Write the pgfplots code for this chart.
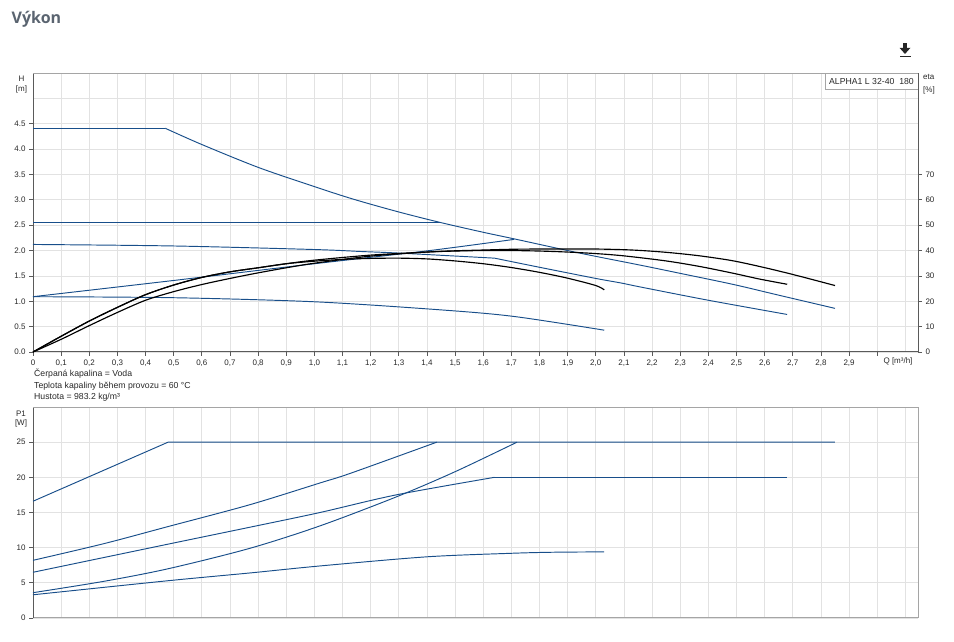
\documentclass[border=0pt]{standalone}
\usepackage{fontspec}
\setmainfont{Liberation Sans}
\newfontfamily\titlefont{Open Sans}
\usepackage{pgfplots}
\pgfplotsset{compat=1.18}
\definecolor{cblue}{RGB}{24,78,138}
\definecolor{gridc}{RGB}{226,226,226}
\definecolor{axc}{RGB}{90,90,90}
\definecolor{bordc}{RGB}{165,165,165}
\definecolor{txt}{RGB}{40,40,40}
\definecolor{ttl}{RGB}{90,100,112}
\pgfplotsset{
  common/.style={
    scale only axis, width=885pt, xmin=0, xmax=3.145,
    tick align=outside, major tick length=4pt, minor tick length=0pt,
    tick style={draw=axc, line width=0.7pt},
    ticklabel style={font=\fontsize{8}{9}\selectfont, text=txt},
    /pgf/number format/assume math mode=true,
    grid=both, major grid style={draw=gridc, line width=0.8pt},
    minor grid style={draw=gridc, line width=0.8pt},
    axis line style={-, draw=axc, line width=1pt},
    clip=false,
  },
  bl/.style={draw=cblue, line width=0.95pt, mark=none},
  bls/.style={draw=cblue, line width=0.95pt, mark=none, smooth, tension=0.5},
  bk/.style={draw=black, line width=1.15pt, mark=none, smooth, tension=0.5},
}
\begin{document}
\begin{tikzpicture}
\useasboundingbox (0pt,0pt) rectangle (954pt,642pt);
\node[anchor=base west, font=\titlefont\bfseries\fontsize{16}{18}\selectfont, text=ttl, inner sep=0pt] at (11.5pt,618pt) {Výkon};
% download icon
\fill[black!85] (903.4pt,599pt) rectangle (906.6pt,594pt);
\fill[black!85] (899.5pt,594.2pt) -- (910.5pt,594.2pt) -- (905pt,588pt) -- cycle;
\fill[black!85] (899.5pt,586.4pt) rectangle (910.5pt,584.8pt);

% ---------- upper axis: H ----------
\begin{axis}[common, at={(33pt,290pt)}, anchor=south west, height=279pt,
  ymin=0, ymax=5.5, axis x line*=bottom, axis y line*=left,
  xtick={0,0.1,0.2,0.3,0.4,0.5,0.6,0.7,0.8,0.9,1.0,1.1,1.2,1.3,1.4,1.5,1.6,1.7,1.8,1.9,2.0,2.1,2.2,2.3,2.4,2.5,2.6,2.7,2.8,2.9,3.0},
  xticklabels={0,{0,1},{0,2},{0,3},{0,4},{0,5},{0,6},{0,7},{0,8},{0,9},{1,0},{1,1},{1,2},{1,3},{1,4},{1,5},{1,6},{1,7},{1,8},{1,9},{2,0},{2,1},{2,2},{2,3},{2,4},{2,5},{2,6},{2,7},{2,8},{2,9},{}},
  minor xtick={3.1},
  ytick={0,0.5,1.0,1.5,2.0,2.5,3.0,3.5,4.0,4.5},
  minor ytick={5.0},
  yticklabel style={/pgf/number format/fixed, /pgf/number format/fixed zerofill, /pgf/number format/precision=1},
]
\addplot[bl] coordinates {(0,4.41)(0.47,4.41)};
\addplot[bls] coordinates {(0.47,4.41)(0.6,4.09)(0.8,3.64)(1.0,3.26)(1.14,3.01)(1.3,2.76)(1.45,2.55)(1.6,2.36)(1.71,2.23)(1.9,2.0)(2.0,1.885)(2.16,1.71)(2.3,1.55)(2.49,1.33)(2.65,1.12)(2.85,0.86)};
\addplot[bl] coordinates {(0,2.555)(1.45,2.555)};
\addplot[bls] coordinates {(0,2.12)(0.5,2.09)(1.0,2.02)(1.17,1.98)(1.3,1.95)(1.64,1.85)};
\addplot[bls] coordinates {(1.64,1.85)(1.8,1.67)(2.0,1.45)(2.09,1.36)(2.16,1.28)(2.4,1.02)(2.68,0.74)};
\addplot[bls] coordinates {(0,1.09)(0.5,1.41)(1.0,1.74)(1.41,2.0)(1.71,2.22)};
\addplot[bls] coordinates {(0,1.09)(0.5,1.07)(1.0,0.99)(1.45,0.83)(1.71,0.70)(2.03,0.43)};
\draw[bordc, line width=0.8pt] (rel axis cs:0,1) -- (rel axis cs:1,1);
\node[draw=bordc, fill=white, anchor=north east, font=\fontsize{8.7}{9}\selectfont, text=txt, inner xsep=4pt, minimum height=16pt] at (rel axis cs:1,1) {ALPHA1 L 32-40\ \ 180};
\end{axis}

% ---------- upper axis: eta ----------
\begin{axis}[common, at={(33pt,290pt)}, anchor=south west, height=279pt,
  ymin=0, ymax=110, axis x line=none, axis y line*=right, grid=none,
  ytick={0,10,20,30,40,50,60,70},
]
\addplot[bk] coordinates {(0,0)(0.1,5.0)(0.2,10.4)(0.3,15.6)(0.4,20.4)(0.5,23.8)(0.6,26.6)(0.7,29.0)(0.8,31.2)(0.9,33.2)(1.0,35.0)(1.2,37.8)(1.4,39.4)(1.5,39.9)(1.6,40.2)(1.7,40.5)(1.8,40.6)(1.9,40.6)(2.0,40.6)(2.13,40.2)(2.25,39.3)(2.37,37.9)(2.49,35.9)(2.61,33.0)(2.72,30.0)(2.85,26.2)};
\addplot[bk] coordinates {(0,0)(0.1,6.2)(0.2,12.2)(0.3,17.6)(0.4,22.6)(0.5,26.4)(0.6,29.4)(0.7,31.6)(0.8,33.2)(0.9,34.8)(1.0,36.2)(1.2,38.2)(1.4,39.4)(1.5,39.8)(1.6,40.0)(1.7,40.0)(1.8,39.8)(1.9,39.4)(2.0,38.8)(2.1,37.9)(2.25,35.9)(2.37,33.7)(2.49,31.0)(2.58,28.8)(2.68,26.7)};
\addplot[bk] coordinates {(0,0)(0.1,6.2)(0.2,12.2)(0.3,17.6)(0.4,22.6)(0.5,26.4)(0.6,29.4)(0.7,31.6)(0.8,33.2)(0.9,34.8)(1.0,35.8)(1.1,36.5)(1.2,36.9)(1.3,37.0)(1.4,36.7)(1.5,35.9)(1.6,34.8)(1.7,33.3)(1.8,31.4)(1.9,29.1)(2.0,26.2)(2.03,24.5)};
\end{axis}

% ---------- lower axis: P1 ----------
\begin{axis}[common, at={(33pt,24pt)}, anchor=south west, height=211pt,
  ymin=0, ymax=30, axis x line*=bottom, axis y line*=left,
  xtick={0,0.1,0.2,0.3,0.4,0.5,0.6,0.7,0.8,0.9,1.0,1.1,1.2,1.3,1.4,1.5,1.6,1.7,1.8,1.9,2.0,2.1,2.2,2.3,2.4,2.5,2.6,2.7,2.8,2.9,3.0},
  minor xtick={3.1}, xticklabels={}, x tick style={draw=none},
  ytick={0,5,10,15,20,25},
  x axis line style={draw=bordc},
]
\addplot[bl] coordinates {(0,16.6)(0.48,25)(2.85,25)};
\addplot[bls] coordinates {(0,8.2)(0.25,10.55)(0.48,13.0)(0.77,16.1)(1.02,19.2)(1.13,20.6)(1.435,25)};
\addplot[bls] coordinates {(0,6.5)(0.48,10.5)(0.77,12.9)(1.02,15.0)(1.29,17.5)(1.64,20.0)};
\addplot[bl] coordinates {(1.64,20.0)(2.68,20.0)};
\addplot[bls] coordinates {(0,3.6)(0.25,5.2)(0.48,7.0)(0.77,9.9)(1.02,13.1)(1.29,17.2)(1.5,20.8)(1.72,25)};
\addplot[bls] coordinates {(0,3.3)(0.48,5.3)(0.77,6.4)(1.02,7.4)(1.4,8.7)(1.7,9.2)(1.85,9.35)(2.03,9.4)};
\draw[bordc, line width=0.8pt] (rel axis cs:0,1) -- (rel axis cs:1,1) -- (rel axis cs:1,0);
\end{axis}

% ---------- labels ----------
\begin{scope}[every node/.style={font=\fontsize{8}{9}\selectfont, text=txt, inner sep=0pt}]
\node[anchor=base] at (21.5pt,560.5pt) {H};
\node[anchor=base] at (21.5pt,550pt) {[m]};
\node[anchor=base west] at (923pt,562pt) {eta};
\node[anchor=base west] at (923pt,549pt) {[\%]};
\node[anchor=base] at (21pt,225.5pt) {P1};
\node[anchor=base] at (21pt,216pt) {[W]};
\node[anchor=base] at (898pt,278pt) {Q [m³/h]};
\end{scope}
\begin{scope}[every node/.style={font=\fontsize{8.7}{9}\selectfont, text=txt, inner sep=0pt}]
\node[anchor=base west] at (34pt,265pt) {Čerpaná kapalina = Voda};
\node[anchor=base west] at (34pt,253.5pt) {Teplota kapaliny během provozu = 60 °C};
\node[anchor=base west] at (34pt,242.5pt) {Hustota = 983.2 kg/m³};
\end{scope}
\end{tikzpicture}
\end{document}
